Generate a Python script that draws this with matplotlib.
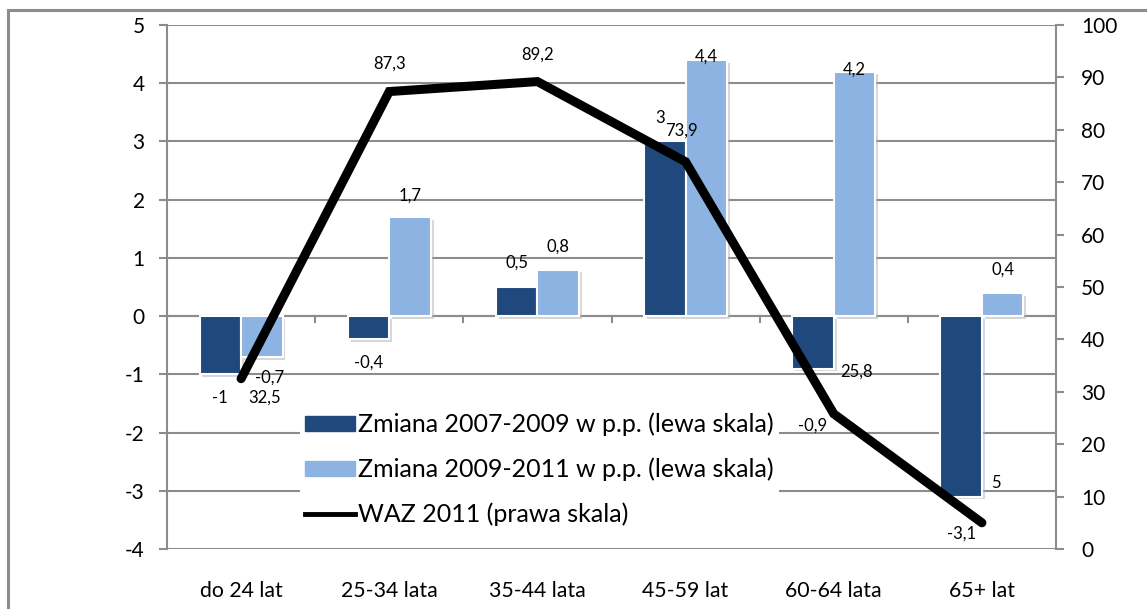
import numpy as np
import matplotlib
matplotlib.use("Agg")
import matplotlib.pyplot as plt
from matplotlib.patches import Rectangle, Patch
from matplotlib.lines import Line2D
import matplotlib.patheffects as pe

plt.rcParams['font.family'] = ['Lato', 'DejaVu Sans']
plt.rcParams['axes.unicode_minus'] = False

groups = ['do 24 lat', '25-34 lata', '35-44 lata', '45-59 lat', '60-64 lata', '65+ lat']
change_0709 = [-1, -0.4, 0.5, 3, -0.9, -3.1]
change_0911 = [-0.7, 1.7, 0.8, 4.4, 4.2, 0.4]
waz_2011 = [32.5, 87.3, 89.2, 73.9, 25.8, 5]

legend_labels = ['Zmiana 2007-2009 w p.p. (lewa skala)',
                 'Zmiana 2009-2011 w p.p. (lewa skala)',
                 'WAZ 2011 (prawa skala)']

dark = '#1f497d'
light = '#8db3e2'
grid_col = '#8c8c8c'

# label offsets in pixels (dx, dy) from the end of each mark
off_dark = [(0, -24), (0, -23), (0, 24), (-5, 23), (0, -57), (0, -37)]
off_light = [(8, -21), (0, 22), (0, 23), (0, 3), (0, 2), (0, 23)]
off_line = [(24, -19), (0, 28), (0, 27), (-4, 31), (23, 42), (14, 40)]


def fmt(v):
    s = ('%.1f' % v).rstrip('0').rstrip('.')
    return s.replace('.', ',')


fig = plt.figure(figsize=(11.47, 6.09), dpi=100)
W, H = 1147, 609
ax = fig.add_axes([167 / W, 60 / H, (1056 - 167) / W, (549 - 25) / H])

# outer chart frame
fig.add_artist(Rectangle((8 / W, -0.1), 1.2, 1.1 - 10 / H, transform=fig.transFigure,
                         fill=False, edgecolor='#8c8c8c', linewidth=2.2))

x = np.arange(len(groups))
w = 0.28
shadow = [pe.SimplePatchShadow(offset=(2, -2), shadow_rgbFace='#b0b0b0', alpha=0.5), pe.Normal()]
b1 = ax.bar(x - w / 2, change_0709, w, color=dark, edgecolor='white', linewidth=1.5, zorder=3)
b2 = ax.bar(x + w / 2, change_0911, w, color=light, edgecolor='white', linewidth=1.5, zorder=3)
for p in list(b1) + list(b2):
    p.set_path_effects(shadow)

ax.set_xlim(-0.5, len(groups) - 0.5)
ax.set_ylim(-4, 5)
ax.set_yticks(range(-4, 6))
ax.yaxis.grid(True, color=grid_col, linewidth=1.5, zorder=0)
ax.set_axisbelow(True)
ax.tick_params(axis='y', length=6, width=1.5, color=grid_col, labelsize=15, pad=10)

for s in ['top', 'bottom']:
    ax.spines[s].set_visible(False)
ax.spines['left'].set_color(grid_col)
ax.spines['left'].set_linewidth(1.5)
ax.spines['right'].set_visible(False)

# category axis sits on zero with ticks between groups
ax.axhline(0, color=grid_col, linewidth=1.5, zorder=1)
ax.set_xticks([])
for b in np.arange(0.5, len(groups) - 0.5, 1):
    ax.plot([b, b], [0, -0.1], color=grid_col, linewidth=1.5, zorder=1)
for i, g in enumerate(groups):
    ax.annotate(g, (i, -4), xytext=(0, -42), textcoords='offset pixels',
                ha='center', va='center', fontsize=15.3)

ax2 = ax.twinx()
ax2.set_ylim(0, 100)
ax2.set_yticks(range(0, 101, 10))
for s in ['top', 'bottom', 'left']:
    ax2.spines[s].set_visible(False)
ax2.spines['right'].set_color(grid_col)
ax2.spines['right'].set_linewidth(1.5)
ax2.tick_params(axis='y', length=6, width=1.5, color=grid_col, labelsize=15, pad=12)
ax2.plot(x, waz_2011, color='black', linewidth=6.5, solid_capstyle='round',
         solid_joinstyle='miter', zorder=4)

for i, v in enumerate(change_0709):
    ax.annotate(fmt(v), (i - w / 2, v), xytext=off_dark[i], textcoords='offset pixels',
                ha='center', va='center', fontsize=12)
for i, v in enumerate(change_0911):
    ax.annotate(fmt(v), (i + w / 2, v), xytext=off_light[i], textcoords='offset pixels',
                ha='center', va='center', fontsize=12)
for i, v in enumerate(waz_2011):
    ax2.annotate(fmt(v), (i, v), xytext=off_line[i], textcoords='offset pixels',
                 ha='center', va='center', fontsize=12, zorder=5)

handles = [Patch(color=dark), Patch(color=light),
           Line2D([], [], color='black', linewidth=3.5)]
leg = ax2.legend(handles, legend_labels, loc='upper left',
                 bbox_to_anchor=(120 / 889, 154 / 524),
                 frameon=True, fontsize=18, handlelength=2.0, handleheight=0.55,
                 handletextpad=0.15, labelspacing=0.85, borderpad=0.2)
leg.get_frame().set_edgecolor('none')
leg.get_frame().set_facecolor('white')
leg.get_frame().set_alpha(1)
leg.get_frame().set_boxstyle('square', pad=0)
leg.set_zorder(3)

fig.savefig('out.png', dpi=100, facecolor='white')
